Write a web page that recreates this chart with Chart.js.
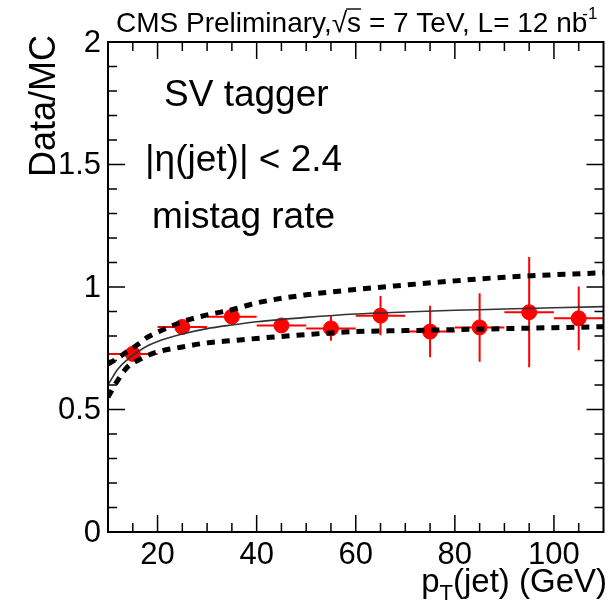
<!DOCTYPE html>
<html>
<head>
<meta charset="utf-8">
<script src="https://cdn.jsdelivr.net/npm/chart.js@4.4.1/dist/chart.umd.min.js"></script>
<style>
  html, body { margin: 0; padding: 0; background: #fff; }
  #wrap { width: 612px; height: 603px; }
</style>
</head>
<body>
<div id="wrap"><canvas id="ratio" width="612" height="603"></canvas></div>
<script>
// measured data/MC mistag ratio per pT bin
const ptBins = [15, 25, 35, 45, 55, 65, 75, 85, 95, 105];
const ptHalfWidth = [5, 5, 5, 5, 5, 5, 5, 5, 5, 5];
const ratio = [0.727, 0.837, 0.879, 0.843, 0.831, 0.883, 0.818, 0.835, 0.897, 0.872];
const ratioErr = [0.02, 0.02, 0.03, 0.03, 0.05, 0.08, 0.105, 0.14, 0.225, 0.13];

// fit curve and its error band
const fitPt = [10, 12, 14, 16, 18, 20, 25, 30, 35, 40, 50, 60, 70, 80, 90, 100, 110];
const fitCentral = [0.60, 0.665, 0.705, 0.735, 0.76, 0.778, 0.808, 0.83, 0.845, 0.858, 0.876, 0.89, 0.898, 0.905, 0.91, 0.915, 0.92];
const fitUp = [0.685, 0.71, 0.738, 0.765, 0.795, 0.815, 0.858, 0.886, 0.907, 0.935, 0.968, 0.99, 1.008, 1.025, 1.04, 1.05, 1.058];
const fitDown = [0.55, 0.62, 0.675, 0.70, 0.72, 0.735, 0.755, 0.772, 0.781, 0.79, 0.806, 0.818, 0.822, 0.826, 0.83, 0.834, 0.838];

const xTicks = [20, 40, 60, 80, 100];
const xTickLabels = ['20', '40', '60', '80', '100'];
const yTicks = [0, 0.5, 1, 1.5, 2];
const yTickLabels = ['0', '0.5', '1', '1.5', '2'];

const FONT = '"Liberation Sans", Arial, sans-serif';

function pts(xs, ys) {
  return xs.map((x, i) => ({ x: x, y: ys[i] }));
}

// error bars under the markers
const errorBars = {
  id: 'errorBars',
  beforeDatasetsDraw(chart) {
    const { ctx, scales: { x, y } } = chart;
    ctx.save();
    ctx.strokeStyle = '#ff0000';
    ctx.lineWidth = 2;
    ptBins.forEach((pt, i) => {
      const px = x.getPixelForValue(pt);
      const py = y.getPixelForValue(ratio[i]);
      ctx.beginPath();
      ctx.moveTo(x.getPixelForValue(pt - ptHalfWidth[i]), py);
      ctx.lineTo(x.getPixelForValue(pt + ptHalfWidth[i]), py);
      ctx.moveTo(px, y.getPixelForValue(ratio[i] - ratioErr[i]));
      ctx.lineTo(px, y.getPixelForValue(ratio[i] + ratioErr[i]));
      ctx.stroke();
    });
    ctx.restore();
  }
};

// ROOT-style frame: inward ticks on all four sides, labels and texts
const frame = {
  id: 'frame',
  afterDraw(chart) {
    const { ctx, chartArea: a, scales: { x, y } } = chart;
    ctx.save();
    ctx.strokeStyle = '#000';
    ctx.lineWidth = 2;
    ctx.strokeRect(a.left, a.top, a.right - a.left, a.bottom - a.top);

    ctx.lineWidth = 1.5;
    ctx.beginPath();
    for (let v = 15; v < 110; v += 5) {
      const px = x.getPixelForValue(v);
      const len = xTicks.includes(v) ? 17 : 9;
      ctx.moveTo(px, a.bottom); ctx.lineTo(px, a.bottom - len);
      ctx.moveTo(px, a.top); ctx.lineTo(px, a.top + len);
    }
    for (let k = 1; k < 20; k++) {
      const v = k / 10;
      const py = y.getPixelForValue(v);
      const len = (k % 5 === 0) ? 17 : 9;
      ctx.moveTo(a.left, py); ctx.lineTo(a.left + len, py);
      ctx.moveTo(a.right, py); ctx.lineTo(a.right - len, py);
    }
    ctx.stroke();

    ctx.fillStyle = '#000';
    ctx.font = '31px ' + FONT;
    ctx.textAlign = 'center';
    ctx.textBaseline = 'alphabetic';
    xTicks.forEach((v, i) => ctx.fillText(xTickLabels[i], x.getPixelForValue(v), 564));
    ctx.textAlign = 'right';
    ctx.textBaseline = 'middle';
    yTicks.forEach((v, i) => ctx.fillText(yTickLabels[i], 101, y.getPixelForValue(v) + 1));

    // axis titles
    ctx.font = '33px ' + FONT;
    ctx.textBaseline = 'alphabetic';
    ctx.textAlign = 'right';
    const tail = '(jet) (GeV)';
    const tailW = ctx.measureText(tail).width;
    ctx.fillText(tail, 607, 592);
    ctx.font = '22px ' + FONT;
    const tW = ctx.measureText('T').width;
    ctx.fillText('T', 607 - tailW, 600);
    ctx.font = '33px ' + FONT;
    ctx.fillText('p', 607 - tailW - tW, 592);

    ctx.save();
    ctx.translate(55, 35);
    ctx.rotate(-Math.PI / 2);
    ctx.font = '36px ' + FONT;
    ctx.textAlign = 'right';
    ctx.fillText('Data/MC', 0, 0);
    ctx.restore();

    // header line
    ctx.textAlign = 'left';
    ctx.font = '28px ' + FONT;
    let cx = 116;
    const by = 32;
    const put = (s) => { ctx.fillText(s, cx, by); cx += ctx.measureText(s).width; };
    put('CMS Preliminary,');
    put('\u221A');
    const sx = cx;
    put('s');
    ctx.lineWidth = 1.4;
    ctx.beginPath();
    ctx.moveTo(sx - 1, by - 23);
    ctx.lineTo(cx, by - 23);
    ctx.stroke();
    put(' = 7 TeV, L= 12 nb');
    ctx.font = '17px ' + FONT;
    ctx.fillText('-1', cx - 5, by - 13);

    // selection labels
    ctx.font = '37px ' + FONT;
    ctx.fillText('SV tagger', 164, 106);
    ctx.fillText('|\u03B7(jet)| < 2.4', 145, 171);
    ctx.fillText('mistag rate', 152, 228);
    ctx.restore();
  }
};

new Chart(document.getElementById('ratio'), {
  type: 'scatter',
  data: {
    datasets: [
      {
        label: 'data/MC',
        data: pts(ptBins, ratio),
        backgroundColor: '#ff0000',
        borderColor: '#ff0000',
        pointRadius: 7.5,
        pointHoverRadius: 7.5,
        order: 3
      },
      {
        type: 'line',
        label: 'fit',
        data: pts(fitPt, fitCentral),
        borderColor: '#333',
        borderWidth: 1.6,
        pointRadius: 0,
        cubicInterpolationMode: 'monotone',
        fill: false,
        order: 2
      },
      {
        type: 'line',
        label: 'fit +1 sigma',
        data: pts(fitPt, fitUp),
        borderColor: '#000',
        borderWidth: 5,
        borderDash: [8, 7],
        pointRadius: 0,
        cubicInterpolationMode: 'monotone',
        fill: false,
        order: 1
      },
      {
        type: 'line',
        label: 'fit -1 sigma',
        data: pts(fitPt, fitDown),
        borderColor: '#000',
        borderWidth: 5,
        borderDash: [8, 7],
        pointRadius: 0,
        cubicInterpolationMode: 'monotone',
        fill: false,
        order: 1
      }
    ]
  },
  options: {
    responsive: false,
    animation: false,
    events: [],
    layout: { padding: { left: 108, right: 4, top: 42, bottom: 71 } },
    plugins: { legend: { display: false }, tooltip: { enabled: false } },
    scales: {
      x: { type: 'linear', min: 10, max: 110, display: false },
      y: { type: 'linear', min: 0, max: 2, display: false }
    }
  },
  plugins: [errorBars, frame]
});
</script>
</body>
</html>
